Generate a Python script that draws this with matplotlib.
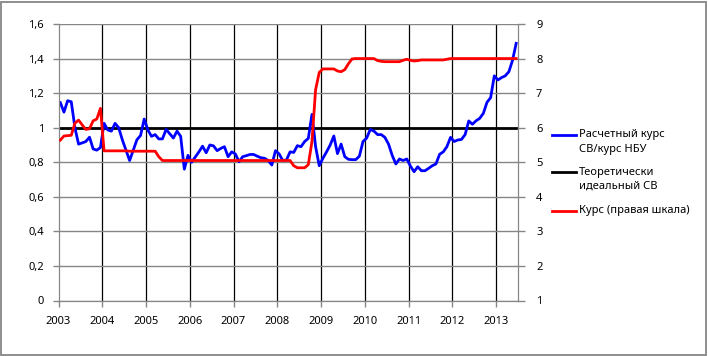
import numpy as np
import matplotlib
matplotlib.use("Agg")
import matplotlib.pyplot as plt
from matplotlib.lines import Line2D
from matplotlib.patches import Rectangle

plt.rcParams['font.family'] = ['Noto Sans', 'DejaVu Sans']

# monthly data, Jan 2003 - Jun 2013
calc_rate = [
    1.145, 1.09, 1.156, 1.15, 1.0, 0.905, 0.912, 0.92, 0.945, 0.877, 0.87, 0.885,
    1.025, 0.987, 0.98, 1.025, 1.0, 0.93, 0.87, 0.81, 0.87, 0.93, 0.955, 1.05,
    0.987, 0.95, 0.96, 0.935, 0.935, 0.99, 0.965, 0.94, 0.98, 0.95, 0.76, 0.84,
    0.80, 0.83, 0.86, 0.893, 0.855, 0.9, 0.895, 0.867, 0.88, 0.89, 0.832, 0.86,
    0.848, 0.803, 0.832, 0.838, 0.845, 0.845, 0.835, 0.826, 0.823, 0.81, 0.784, 0.867,
    0.848, 0.81, 0.813, 0.86, 0.857, 0.896, 0.89, 0.92, 0.938, 1.077, 0.89, 0.78,
    0.823, 0.86, 0.9, 0.952, 0.85, 0.905, 0.832, 0.817, 0.815, 0.815, 0.835, 0.92,
    0.94, 0.99, 0.98, 0.96, 0.96, 0.944, 0.905, 0.84, 0.79, 0.819, 0.81, 0.819,
    0.778, 0.745, 0.774, 0.751, 0.751, 0.765, 0.78, 0.79, 0.846, 0.86, 0.89, 0.944,
    0.92, 0.929, 0.932, 0.96, 1.039, 1.02, 1.04, 1.054, 1.083, 1.147, 1.174, 1.30,
    1.276, 1.29, 1.30, 1.324, 1.39, 1.488,
]
ideal = [1.0] * len(calc_rate)
fx_rate = [
    5.64, 5.76, 5.77, 5.78, 6.13, 6.22, 6.08, 5.95, 5.97, 6.2, 6.25, 6.56,
    5.33, 5.33, 5.33, 5.33, 5.33, 5.33, 5.33, 5.32, 5.32, 5.32, 5.32, 5.32,
    5.32, 5.32, 5.32, 5.16, 5.05, 5.05, 5.05, 5.05, 5.05, 5.05, 5.05, 5.05,
    5.05, 5.05, 5.05, 5.05, 5.05, 5.05, 5.05, 5.05, 5.05, 5.05, 5.05, 5.05,
    5.05, 5.05, 5.05, 5.05, 5.05, 5.05, 5.05, 5.05, 5.05, 5.05, 5.05, 5.05,
    5.05, 5.05, 5.05, 5.05, 4.90, 4.84, 4.84, 4.84, 4.93, 5.6, 7.1, 7.6,
    7.70, 7.70, 7.70, 7.70, 7.64, 7.62, 7.68, 7.85, 7.99, 8.0, 8.0, 8.0,
    8.0, 8.0, 8.0, 7.94, 7.92, 7.91, 7.91, 7.91, 7.91, 7.91, 7.95, 7.98,
    7.95, 7.93, 7.94, 7.96, 7.96, 7.96, 7.96, 7.96, 7.96, 7.96, 7.98, 8.0,
    8.0, 8.0, 8.0, 8.0, 8.0, 8.0, 8.0, 8.0, 8.0, 8.0, 8.0, 8.0,
    8.0, 8.0, 8.0, 8.0, 8.0, 8.0,
]
years = list(range(2003, 2014))
left_ticks = [0, 0.2, 0.4, 0.6, 0.8, 1, 1.2, 1.4, 1.6]
labels = ["Расчетный курс\nСВ/курс НБУ", "Теоретически\nидеальный СВ", "Курс (правая шкала)"]
colors = ["#0000ff", "#000000", "#ff0000"]

x = 2003 + (np.arange(len(calc_rate)) + 0.5) / 12

fig = plt.figure(figsize=(7.08, 3.56), dpi=100)
W, H = 708, 356
ax = fig.add_axes([58.5 / W, 1 - 300.5 / H, (518 - 58.5) / W, (300.5 - 24) / H])
grey = "#868686"

ax.set_xlim(2003, 2003 + len(calc_rate) / 12)
ax.set_ylim(0, 1.6)
ax.set_yticks(left_ticks)
ax.set_yticklabels([f"{v:g}".replace(".", ",") for v in left_ticks])
ax.set_xticks(years)
ax.set_xticklabels([str(y) for y in years])
ax.grid(axis="y", color=grey, lw=1.0)
for yr in years[1:]:
    ax.axvline(yr, color="black", lw=0.9, zorder=1)
for s in ["left", "bottom", "right"]:
    ax.spines[s].set_color(grey)
ax.spines["top"].set_visible(False)
ax.tick_params(axis="both", colors=grey, labelcolor="black", labelsize=8, length=4.5, width=1)
ax.tick_params(axis="x", pad=7)
ax.tick_params(axis="y", pad=6)

ax.plot(x, calc_rate, color=colors[0], lw=2.0, zorder=3)
ax.plot(x, ideal, color=colors[1], lw=2.0, zorder=2)

ax2 = ax.twinx()
ax2.set_ylim(1, 9)
ax2.set_yticks(range(1, 10))
ax2.plot(x, fx_rate, color=colors[2], lw=2.0, zorder=4)
for s in ["left", "bottom", "right", "top"]:
    ax2.spines[s].set_color(grey)
ax2.spines["top"].set_visible(False)
ax2.tick_params(axis="y", colors=grey, labelcolor="black", labelsize=8, length=5, width=1, pad=8)

# legend drawn by hand to keep handles on the first text line
leg_y = [134.5, 172, 210.5]
for lab, col, yy in zip(labels, colors, leg_y):
    yf = 1 - yy / H
    fig.add_artist(Line2D([552 / W, 576 / W], [yf, yf], color=col, lw=2.0))
    fig.text(579 / W, 1 - (yy - 5.5) / H, lab, fontsize=8, va="top", ha="left",
             linespacing=1.45)

fig.add_artist(Rectangle((1 / W, 1 / H), 1 - 3 / W, 1 - 3 / H, fill=False,
                         edgecolor=grey, lw=1.3, transform=fig.transFigure))

fig.savefig("out.png", dpi=100)
